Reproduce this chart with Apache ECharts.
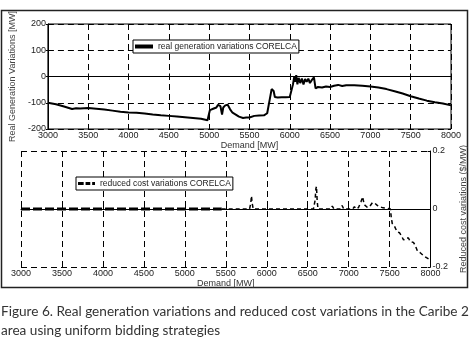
<!DOCTYPE html>
<html>
<head>
<meta charset="utf-8">
<script src="https://cdn.jsdelivr.net/npm/echarts@6/dist/echarts.min.js"></script>
<style>
  html, body { margin: 0; padding: 0; background: #fff; }
  #main { width: 476px; height: 346px; }
</style>
</head>
<body>
<div id="main"></div>
<script>
  // x ticks shared by both panels
  var demandTicks = [3000, 3500, 4000, 4500, 5000, 5500, 6000, 6500, 7000, 7500, 8000];

  // top panel: real generation variations CORELCA [MW]
  var genDemand = [3000, 3100, 3200, 3300, 3350, 3400, 3500, 3600, 3700, 3800, 3900, 4000, 4100, 4200, 4300, 4400,
    4500, 4600, 4700, 4800, 4900, 4980, 5000, 5010, 5050, 5090, 5110, 5140, 5160, 5175, 5200, 5230, 5260, 5290,
    5330, 5370, 5420, 5460, 5500, 5560, 5620, 5680, 5720, 5750, 5775, 5800, 5815, 5850, 5900, 5950, 6000, 6020,
    6040, 6055, 6070, 6080, 6095, 6110, 6130, 6150, 6170, 6190, 6210, 6230, 6250, 6270, 6290, 6300, 6320, 6350,
    6400, 6450, 6500, 6550, 6600, 6650, 6700, 6800, 6900, 7000, 7100, 7200, 7300, 7400, 7500, 7600, 7700, 7800,
    7900, 8000];
  var genValues = [-100, -106, -114, -124, -121, -122, -120, -123, -126, -130, -134, -137, -138, -141, -145, -148,
    -150, -152, -155, -158, -161, -167, -140, -128, -123, -118, -108, -113, -145, -118, -110, -108, -125, -138,
    -145, -153, -158, -156, -156, -150, -149, -148, -140, -90, -48, -55, -78, -80, -79, -79, -78, -80,
    -30, -2, -20, 5, -30, -5, -25, -8, -30, -10, -20, -8, -25, -15, -20, -3, -45, -40,
    -42, -38, -40, -35, -32, -36, -33, -33, -35, -38, -42, -48, -56, -65, -75, -84, -92, -98,
    -103, -110];

  // bottom panel: reduced cost variations CORELCA [$/MW]
  var costDemand = [3000, 5450, 5790, 5805, 5813, 5822, 5835, 6570, 6590, 6600, 6607, 6615, 6625, 6780, 6800, 6820,
    6900, 6920, 6940, 7050, 7070, 7090, 7120, 7150, 7170, 7190, 7210, 7230, 7260, 7290, 7320, 7350, 7380, 7420,
    7480, 7510, 7520, 7532, 7560, 7590, 7620, 7640, 7670, 7700, 7730, 7750, 7770, 7790, 7810, 7840, 7870, 7910,
    7950, 7990];
  var costValues = [0, 0, 0, 0.02, 0.045, 0.02, 0, 0, 0.03, 0.07, 0.078, 0.03, 0, 0, 0.01, 0,
    0, 0.012, 0, 0, 0.008, 0, 0.005, 0.025, 0.042, 0.015, 0.018, 0.005, 0.01, 0.022, 0.02, 0.012, 0.008, 0.004,
    0.002, 0, -0.03, -0.05, -0.06, -0.078, -0.082, -0.09, -0.107, -0.1, -0.1, -0.112, -0.118, -0.115, -0.124, -0.145, -0.15, -0.16,
    -0.168, -0.175];

  var genName = 'real generation variations CORELCA';
  var costName = 'reduced cost variations CORELCA';

  var chart = echarts.init(document.getElementById('main'));

  function pairs(xs, ys, from, to) {
    var out = [];
    for (var i = 0; i < xs.length; i++) {
      if (xs[i] >= from && xs[i] <= to) out.push([xs[i], ys[i]]);
    }
    return out;
  }

  var tickFont = 'Liberation Sans Narrow, Arial Narrow, Liberation Sans, sans-serif';
  var dashGrid = { show: true, lineStyle: { color: '#000', type: [6, 4], width: 1 } };

  var xBase = {
    type: 'value',
    min: demandTicks[0],
    max: demandTicks[demandTicks.length - 1],
    interval: 500,
    name: 'Demand [MW]',
    nameLocation: 'middle',
    nameTextStyle: { fontSize: 9, color: '#333', fontFamily: tickFont },
    axisLine: { show: true, lineStyle: { color: '#000', width: 1 } },
    axisTick: { show: true, inside: true, length: 3, lineStyle: { color: '#000' } },
    axisLabel: {
      fontSize: 9, color: '#222', margin: 2, fontFamily: tickFont,
      formatter: function (v) { return String(v); }
    },
    splitLine: dashGrid
  };

  var option = {
    animation: false,
    backgroundColor: '#fff',
    grid: [
      { left: 37, top: 24, width: 414, height: 105, show: true, borderColor: '#000', borderWidth: 1 },
      { left: 21, top: 151, width: 420, height: 116 }
    ],
    legend: [
      {
        data: [genName],
        left: 133, top: 40,
        padding: [2, 2],
        icon: 'path://M0,0h18v4h-18z',
        itemWidth: 18, itemHeight: 4,
        itemGap: 0,
        borderColor: '#000', borderWidth: 1,
        backgroundColor: '#fff',
        textStyle: { fontSize: 8.5, color: '#222', fontFamily: tickFont }
      },
      {
        data: [costName],
        left: 76, top: 177,
        padding: [2, 2],
        icon: 'path://M0,0h6v3h-6z M8,0h5v3h-5z M15,0h3v3h-3z',
        itemWidth: 17, itemHeight: 3,
        borderColor: '#000', borderWidth: 1,
        backgroundColor: '#fff',
        textStyle: { fontSize: 8.5, color: '#222', fontFamily: tickFont }
      }
    ],
    xAxis: [
      Object.assign({}, xBase, { gridIndex: 0, nameGap: 11 }),
      Object.assign({}, xBase, { gridIndex: 1, nameGap: 12 })
    ],
    yAxis: [
      {
        type: 'value', gridIndex: 0,
        min: -200, max: 200, interval: 100,
        name: 'Real Generation Variations [MW]',
        nameLocation: 'middle', nameGap: 22,
        nameTextStyle: { fontSize: 9, color: '#444', fontFamily: 'Liberation Sans, sans-serif' },
        axisLine: { show: true, lineStyle: { color: '#000' } },
        axisTick: { show: true, inside: false, length: 2, lineStyle: { color: '#000' } },
        axisLabel: { fontSize: 9, color: '#222', margin: 2, fontFamily: tickFont },
        splitLine: dashGrid
      },
      {
        type: 'value', gridIndex: 1, position: 'right',
        min: -0.2, max: 0.2, interval: 0.2,
        name: 'Reduced cost variations ($/MW)',
        nameLocation: 'middle', nameGap: 20, nameRotate: 90,
        nameTextStyle: { fontSize: 9, color: '#444', fontFamily: 'Liberation Sans, sans-serif' },
        axisLine: { show: true, lineStyle: { color: '#000' } },
        axisTick: { show: true, inside: true, length: 3, lineStyle: { color: '#000' } },
        axisLabel: {
          fontSize: 9, color: '#222', margin: 2, fontFamily: tickFont,
          formatter: function (v) { return Math.abs(v) < 1e-9 ? '0' : String(Math.round(v * 10) / 10); }
        },
        splitLine: dashGrid
      }
    ],
    series: [
      {
        name: genName,
        type: 'line',
        xAxisIndex: 0, yAxisIndex: 0,
        data: pairs(genDemand, genValues, 3000, 8000),
        symbol: 'none',
        lineStyle: { color: '#000', width: 2 },
        itemStyle: { color: '#000' }
      },
      {
        // flat stretch drawn heavier in the reference
        name: costName,
        type: 'line',
        xAxisIndex: 1, yAxisIndex: 1,
        data: pairs(costDemand, costValues, 3000, 5450),
        symbol: 'none',
        lineStyle: { color: '#000', width: 3, type: [9, 3] },
        itemStyle: { color: '#000' }
      },
      {
        name: costName,
        type: 'line',
        xAxisIndex: 1, yAxisIndex: 1,
        data: pairs(costDemand, costValues, 5450, 8000),
        symbol: 'none',
        lineStyle: { color: '#000', width: 1.5, type: [4, 3] },
        itemStyle: { color: '#000' }
      }
    ],
    graphic: [
      {
        type: 'rect', silent: true, z: -1,
        shape: { x: 1.5, y: 10.5, width: 466, height: 277 },
        style: { fill: 'none', stroke: '#222', lineWidth: 1.5 }
      },
      {
        type: 'text', left: 1, top: 305,
        style: {
          text: 'Figure 6. Real generation variations and reduced cost variations in the Caribe 2',
          fontSize: 13.6, fill: '#333', fontFamily: 'Lato, sans-serif'
        }
      },
      {
        type: 'text', left: 1, top: 324,
        style: {
          text: 'area using uniform bidding strategies',
          fontSize: 13.6, fill: '#333', fontFamily: 'Lato, sans-serif'
        }
      }
    ]
  };

  chart.setOption(option);
</script>
</body>
</html>
